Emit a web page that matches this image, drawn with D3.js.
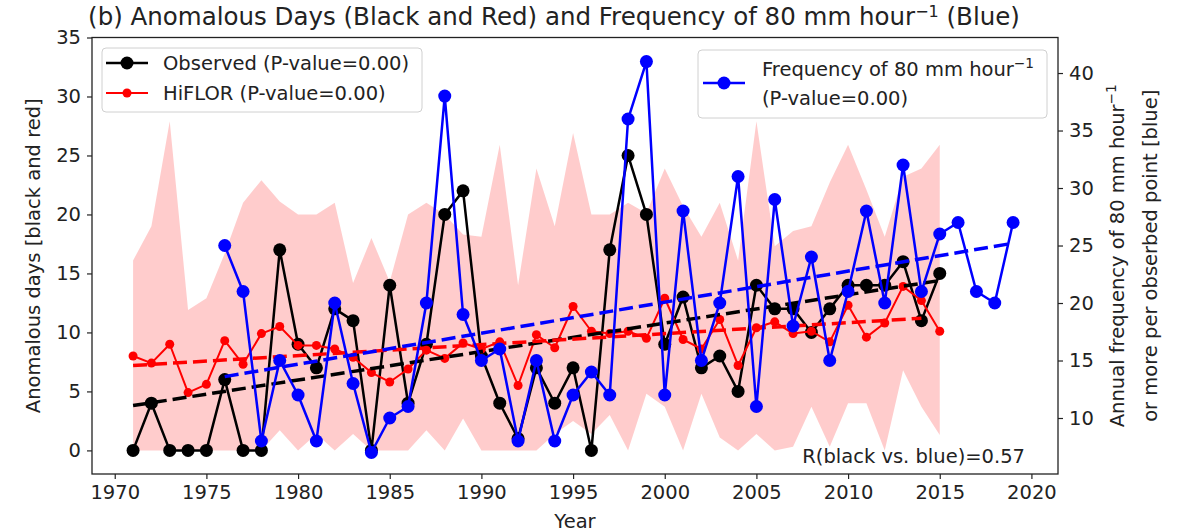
<!DOCTYPE html>
<html>
<head>
<meta charset="utf-8">
<script src="https://cdn.jsdelivr.net/npm/d3@7.9.0/dist/d3.min.js"></script>
<style>
  body { margin: 0; background: #fff; }
  svg { display: block; font-family: "DejaVu Sans", sans-serif; }
</style>
</head>
<body>
<svg id="chart" width="1180" height="532"></svg>
<script>
// years
const years = d3.range(1971, 2016);        // observed + HiFLOR
const blueYears = d3.range(1976, 2020);    // frequency series

// observed anomalous days (black)
const observed = [0, 4, 0, 0, 0, 6, 0, 0, 17, 9, 7, 12, 11, 0, 14, 4, 9, 20, 22, 8,
  4, 1, 7, 4, 7, 0, 17, 25, 20, 9, 13, 7, 8, 5, 14, 12, 12, 10, 12, 14,
  14, 14, 16, 11, 15];

// HiFLOR ensemble mean (red)
const hiflor = [8.0, 7.4, 9.0, 4.9, 5.6, 9.3, 7.3, 9.9, 10.5, 8.9, 8.9, 8.6, 7.9, 6.6, 5.8, 6.9, 8.5, 7.8, 9.1, 8.6,
  9.2, 5.5, 9.8, 8.7, 12.2, 10.1, 9.9, 10.1, 9.5, 12.9, 9.4, 8.6, 11.1, 7.2, 10.4, 10.9, 9.9, 10.1, 9.2, 12.3,
  9.6, 10.8, 13.9, 12.7, 10.1];

// HiFLOR ensemble spread (pink band)
const hiflorMax = [16.1, 19.0, 27.9, 11.9, 12.9, 16.7, 21.0, 22.9, 21.1, 20.0, 20.0, 21.0, 14.2, 18.0, 14.3, 20.0, 21.0, 20.0, 18.3, 18.1,
  25.9, 14.0, 23.9, 19.0, 26.9, 20.0, 20.0, 21.0, 20.1, 23.9, 20.7, 18.1, 21.0, 16.1, 27.9, 17.3, 18.6, 19.0, 22.7, 25.9,
  22.1, 18.1, 23.2, 23.9, 25.9];
const hiflorMin = [0, 0, 0, 0, 0, 0, 0, 0, 1.7, 0, 1.4, 0, 1.4, 0, 0, 0, 1.7, 0, 2.7, 0,
  0, 0, 0, 1.4, 2.5, 1.4, 3.0, 0, 4.8, 3.7, 0, 4.8, 1.1, 0, 1.4, 0, 0.3, 3.7, 0.3, 4.0,
  4.0, 0, 6.8, 3.7, 1.3];

// frequency of 80 mm/hour (blue, right axis)
const freq = [25, 21, 8, 15, 12, 8, 20, 13, 7, 10, 11, 20, 38, 19, 15, 16, 8, 15, 8, 12,
  14, 12, 36, 41, 12, 28, 15, 20, 31, 11, 29, 18, 24, 15, 21, 28, 20, 32, 21, 26,
  27, 21, 20, 27];

// linear trend end points
const trendBlack = [[1971, 3.8], [2015, 14.4]];
const trendRed = [[1971, 7.2], [2014, 11.2]];
const trendBlue = [[1976, 13.6], [2019, 25.2]];

const xTicks = d3.range(1970, 2021, 5);
const leftTicks = d3.range(0, 36, 5);
const rightTicks = d3.range(10, 41, 5);

const svg = d3.select('#chart');
const L = 92, R = 1058, T = 37.5, B = 474;
const fs = 19.5;

const x = d3.scaleLinear().domain([1968.76, 2021.45]).range([L, R]);
const yL = d3.scaleLinear().domain([-2, 35]).range([B, T]);
const yR = d3.scaleLinear().domain([5.13, 43.09]).range([B, T]);

// band
const band = years.map((yr, i) => ({ yr, lo: hiflorMin[i], hi: hiflorMax[i] }));
svg.append('path')
  .attr('d', d3.area().x(d => x(d.yr)).y0(d => yL(d.lo)).y1(d => yL(d.hi))(band))
  .attr('fill', '#ff0000').attr('fill-opacity', 0.2);

function series(yrs, vals, yScale, color, width, r) {
  const pts = yrs.map((yr, i) => [x(yr), yScale(vals[i])]);
  svg.append('path').attr('d', d3.line()(pts))
    .attr('fill', 'none').attr('stroke', color).attr('stroke-width', width)
    .attr('stroke-linejoin', 'round');
  svg.append('g').selectAll('circle').data(pts).join('circle')
    .attr('cx', d => d[0]).attr('cy', d => d[1]).attr('r', r).attr('fill', color);
}

function trend(pts, yScale, color) {
  svg.append('path')
    .attr('d', d3.line().x(d => x(d[0])).y(d => yScale(d[1]))(pts))
    .attr('fill', 'none').attr('stroke', color).attr('stroke-width', 3.5)
    .attr('stroke-dasharray', '14,6');
}

series(years, observed, yL, '#000', 2.5, 6.5);
series(years, hiflor, yL, '#ff0000', 2, 4.5);
trend(trendBlack, yL, '#000');
trend(trendRed, yL, '#ff0000');

// legend for left axis
const leg1 = svg.append('g');
leg1.append('rect').attr('x', 102).attr('y', 48).attr('width', 320).attr('height', 64)
  .attr('rx', 4).attr('fill', '#fff').attr('fill-opacity', 0.8).attr('stroke', '#d0d0d0');
[['Observed (P-value=0.00)', '#000', 2.5, 6.5, 63], ['HiFLOR (P-value=0.00)', '#ff0000', 2, 4.5, 93]]
  .forEach(([txt, c, w, r, yy]) => {
    leg1.append('line').attr('x1', 106).attr('x2', 148).attr('y1', yy).attr('y2', yy)
      .attr('stroke', c).attr('stroke-width', w);
    leg1.append('circle').attr('cx', 127).attr('cy', yy).attr('r', r).attr('fill', c);
    leg1.append('text').attr('x', 163).attr('y', yy).attr('dy', '0.35em')
      .attr('font-size', fs).attr('fill', '#222').text(txt);
  });

// blue series on right axis
series(blueYears, freq, yR, '#0000ff', 2.5, 6.5);
trend(trendBlue, yR, '#0000ff');

const leg2 = svg.append('g');
leg2.append('rect').attr('x', 698).attr('y', 50).attr('width', 349).attr('height', 68)
  .attr('rx', 4).attr('fill', '#fff').attr('fill-opacity', 0.8).attr('stroke', '#d0d0d0');
leg2.append('line').attr('x1', 703).attr('x2', 745).attr('y1', 83).attr('y2', 83)
  .attr('stroke', '#0000ff').attr('stroke-width', 2.5);
leg2.append('circle').attr('cx', 724).attr('cy', 83).attr('r', 6.5).attr('fill', '#0000ff');
const l2t = leg2.append('text').attr('x', 762).attr('y', 69).attr('dy', '0.35em')
  .attr('font-size', fs).attr('fill', '#222');
l2t.append('tspan').text('Frequency of 80 mm hour');
l2t.append('tspan').attr('font-size', fs * 0.7).attr('dy', '-0.55em').text('\u22121');
leg2.append('text').attr('x', 762).attr('y', 98).attr('dy', '0.35em')
  .attr('font-size', fs).attr('fill', '#222').text('(P-value=0.00)');

// axes
const gx = svg.append('g').attr('transform', `translate(0,${B})`)
  .call(d3.axisBottom(x).tickValues(xTicks).tickFormat(d3.format('d')).tickSize(5).tickPadding(6));
const gl = svg.append('g').attr('transform', `translate(${L},0)`)
  .call(d3.axisLeft(yL).tickValues(leftTicks).tickSize(5).tickPadding(6));
const gr = svg.append('g').attr('transform', `translate(${R},0)`)
  .call(d3.axisRight(yR).tickValues(rightTicks).tickSize(5).tickPadding(6));
[gx, gl, gr].forEach(g => {
  g.select('.domain').remove();
  g.selectAll('line').attr('stroke', '#222').attr('stroke-width', 1.2);
  g.selectAll('text').attr('font-size', fs).attr('font-family', 'DejaVu Sans').attr('fill', '#222');
});
svg.append('rect').attr('x', L).attr('y', T).attr('width', R - L).attr('height', B - T)
  .attr('fill', 'none').attr('stroke', '#222').attr('stroke-width', 1.3);

// texts
svg.append('text').attr('x', 1025).attr('y', 456).attr('dy', '0.35em').attr('text-anchor', 'end')
  .attr('font-size', fs).attr('fill', '#222').text('R(black vs. blue)=0.57');

const title = svg.append('text').attr('x', 554).attr('y', 16).attr('dy', '0.35em')
  .attr('text-anchor', 'middle').attr('font-size', 24.5).attr('fill', '#222');
title.append('tspan').text('(b) Anomalous Days (Black and Red) and Frequency of 80 mm hour');
title.append('tspan').attr('font-size', 16).attr('dy', '-0.5em').text('\u22121');
title.append('tspan').attr('dy', '0.33em').text(' (Blue)');

svg.append('text').attr('x', (L + R) / 2).attr('y', 521).attr('dy', '0.35em')
  .attr('text-anchor', 'middle').attr('font-size', fs).attr('fill', '#222').text('Year');

svg.append('text').attr('transform', `translate(33,${(T + B) / 2}) rotate(-90)`)
  .attr('dy', '0.35em').attr('text-anchor', 'middle').attr('font-size', fs).attr('fill', '#222')
  .text('Anomalous days [black and red]');

const rl = svg.append('text').attr('transform', `translate(1117,${(T + B) / 2}) rotate(-90)`)
  .attr('dy', '0.35em').attr('text-anchor', 'middle').attr('font-size', fs).attr('fill', '#222');
rl.append('tspan').text('Annual frequency of 80 mm hour');
rl.append('tspan').attr('font-size', fs * 0.7).attr('dy', '-0.55em').text('\u22121');
svg.append('text').attr('transform', `translate(1150,${(T + B) / 2}) rotate(-90)`)
  .attr('dy', '0.35em').attr('text-anchor', 'middle').attr('font-size', fs).attr('fill', '#222')
  .text('or more per obserbed point [blue]');
</script>
</body>
</html>
